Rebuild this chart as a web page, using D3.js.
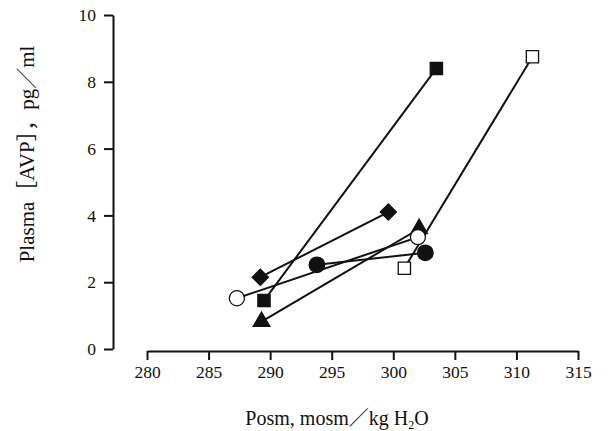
<!DOCTYPE html>
<html>
<head>
<meta charset="utf-8">
<script src="https://cdn.jsdelivr.net/npm/d3@7"></script>
<style>
  body { margin: 0; background: #fff; }
  text { font-family: "Liberation Serif", "Noto Sans CJK JP", serif; fill: #111; }
</style>
</head>
<body>
<svg width="616" height="431"></svg>
<script>
// one entry per subject: marker, start and end reading
let subjects = ['filledSquare', 'openSquare', 'filledDiamond', 'filledTriangle', 'filledCircle', 'openCircle'];
let posmStart = [289.5, 300.9, 289.2, 289.3, 293.8, 287.3];
let posmEnd   = [303.5, 311.3, 299.6, 302.1, 302.6, 302.0];
let avpStart  = [1.45, 2.42, 2.15, 0.82, 2.52, 1.52];
let avpEnd    = [8.4, 8.75, 4.1, 3.6, 2.88, 3.35];

let xTicks = [280, 285, 290, 295, 300, 305, 310, 315];
let yTicks = [0, 2, 4, 6, 8, 10];

let svg = d3.select('svg');

let xScale = d3.scaleLinear()
        .domain([280, 315])
        .range([147, 578]);

let yScale = d3.scaleLinear()
        .domain([0, 10])
        .range([349, 15]);

// y axis
let yAxis = d3.axisLeft(yScale)
        .tickValues(yTicks)
        .tickSize(9)
        .tickSizeOuter(0)
        .tickPadding(8);

let gy = svg.append('g')
    .attr('transform', 'translate(113,0)')
    .call(yAxis);

// x axis sits a little below and apart from the y axis
let xAxis = d3.axisBottom(xScale)
        .tickValues(xTicks)
        .tickSize(9)
        .tickSizeOuter(0)
        .tickPadding(6);

let gx = svg.append('g')
    .attr('transform', 'translate(0,351)')
    .call(xAxis);

[gx, gy].forEach(g => {
    g.select('.domain').attr('stroke', '#111').attr('stroke-width', 2);
    g.selectAll('.tick line').attr('stroke', '#111').attr('stroke-width', 2);
    g.selectAll('.tick text')
        .style('font-family', '"Liberation Serif", serif')
        .style('font-size', '17.5px')
        .attr('fill', '#111');
});

// axis titles
svg.append('text')
    .attr('transform', 'translate(34,154) rotate(-90)')
    .attr('text-anchor', 'middle')
    .style('font-size', '21px')
    .text('Plasma［AVP］，pg／ml');

let xTitle = svg.append('text')
    .attr('x', 337)
    .attr('y', 425)
    .attr('text-anchor', 'middle')
    .style('font-size', '20px');
xTitle.append('tspan').text('Posm, mosm／kg H');
xTitle.append('tspan').attr('dy', 4).style('font-size', '12px').text('2');
xTitle.append('tspan').attr('dy', -4).text('O');

// connecting lines
let data = subjects.map((s, i) => ({
    name: s,
    x0: posmStart[i], y0: avpStart[i],
    x1: posmEnd[i], y1: avpEnd[i]
}));

svg.selectAll('.link')
    .data(data)
    .enter().append('line')
    .attr('class', 'link')
    .attr('x1', d => xScale(d.x0))
    .attr('y1', d => yScale(d.y0))
    .attr('x2', d => xScale(d.x1))
    .attr('y2', d => yScale(d.y1))
    .attr('stroke', '#111')
    .attr('stroke-width', 2);

// markers
let shapes = {
    filledSquare:   { type: d3.symbolSquare,   size: 150, fill: '#111', rot: 0 },
    openSquare:     { type: d3.symbolSquare,   size: 150, fill: '#fff', rot: 0 },
    filledDiamond:  { type: d3.symbolSquare,   size: 130, fill: '#111', rot: 45 },
    filledTriangle: { type: d3.symbolTriangle, size: 120, fill: '#111', rot: 0 },
    filledCircle:   { type: d3.symbolCircle,   size: 190, fill: '#111', rot: 0 },
    openCircle:     { type: d3.symbolCircle,   size: 180, fill: '#fff', rot: 0 }
};

let points = [];
data.forEach(d => {
    points.push({ name: d.name, x: d.x0, y: d.y0 });
    points.push({ name: d.name, x: d.x1, y: d.y1 });
});

svg.selectAll('.pt')
    .data(points)
    .enter().append('path')
    .attr('class', 'pt')
    .attr('d', d => d3.symbol().type(shapes[d.name].type).size(shapes[d.name].size)())
    .attr('transform', d => 'translate(' + xScale(d.x) + ',' + yScale(d.y) + ') rotate(' + shapes[d.name].rot + ')')
    .attr('fill', d => shapes[d.name].fill)
    .attr('stroke', '#111')
    .attr('stroke-width', 1.3);
</script>
</body>
</html>
